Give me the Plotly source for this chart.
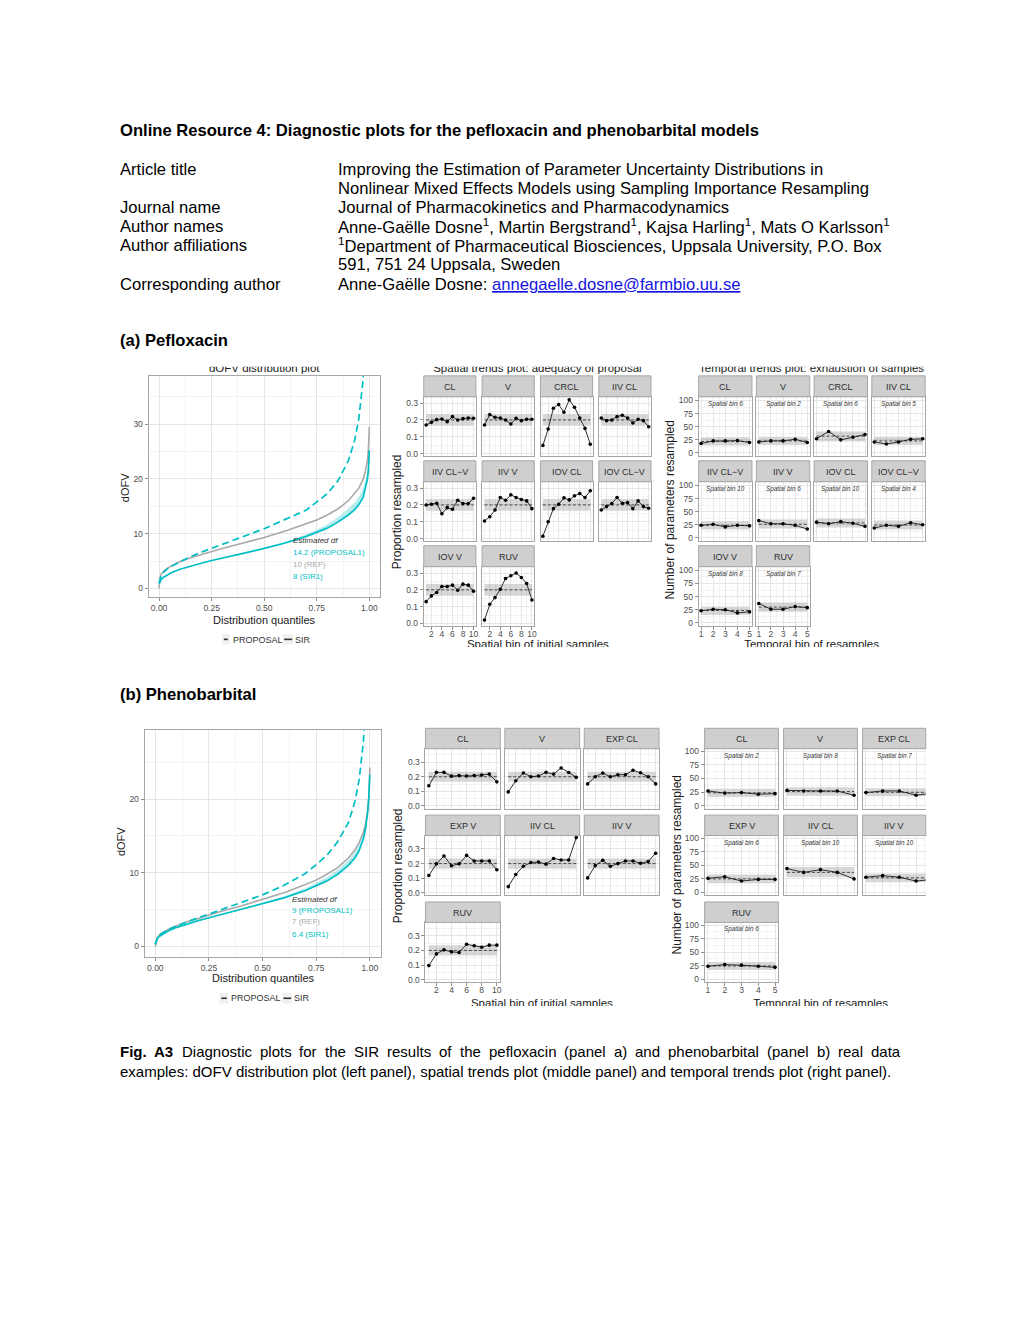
import plotly.graph_objects as go

# ============================ DATA ============================
# dOFV distribution plots (x = distribution quantile, y = dOFV)
quantiles = [0, 0.005, 0.01, 0.02, 0.04, 0.06, 0.1, 0.15, 0.2, 0.25, 0.3, 0.4, 0.5,
             0.6, 0.7, 0.75, 0.8, 0.85, 0.9, 0.93, 0.95, 0.97, 0.98, 0.99, 0.995, 1.0]

pef_dofv_ref = [0, 2.2, 2.6, 3.1, 3.7, 4.1, 4.9, 5.6, 6.2, 6.7, 7.3, 8.3, 9.3,
                10.5, 11.8, 12.5, 13.4, 14.5, 16.0, 17.3, 18.3, 19.9, 21.2, 23.2, 25.2, 29.5]
pef_dofv_sir = [0.9, 1.3, 1.6, 2.0, 2.5, 2.9, 3.5, 4.1, 4.6, 5.1, 5.5, 6.4, 7.3,
                8.3, 9.5, 10.2, 11.0, 12.1, 13.4, 14.4, 15.3, 16.6, 18.0, 19.8, 21.5, 25.2]
pef_dofv_sir_hi = [0.9, 1.3, 1.6, 2.0, 2.5, 2.9, 3.5, 4.1, 4.6, 5.1, 5.5, 6.4, 7.4,
                   8.5, 9.9, 10.7, 11.7, 13.0, 14.6, 15.7, 16.8, 18.3, 19.6, 21.0, 22.4, 25.2]
pef_dofv_prop = [1.0, 1.8, 2.3, 2.9, 3.6, 4.1, 4.9, 5.8, 6.6, 7.3, 8.0, 9.4, 10.9,
                 12.6, 14.3, 15.8, 17.3, 19.6, 23.3, 27.0, 31.0, 38.0, 44.0, 55.0, 65.0, 80.0]

phe_dofv_ref = [0, 0.9, 1.2, 1.6, 2.0, 2.3, 2.8, 3.4, 3.8, 4.3, 4.7, 5.5, 6.35,
                7.3, 8.4, 9.0, 9.8, 10.7, 12.0, 13.1, 14.1, 15.5, 16.6, 18.5, 20.3, 24.3]
phe_dofv_sir = [0.3, 0.8, 1.1, 1.4, 1.8, 2.1, 2.6, 3.1, 3.5, 3.9, 4.3, 5.0, 5.8,
                6.6, 7.6, 8.2, 8.9, 9.8, 11.0, 12.0, 13.0, 14.6, 16.0, 18.3, 20.0, 23.3]
phe_dofv_sir_hi = [0.3, 0.8, 1.1, 1.4, 1.8, 2.1, 2.6, 3.1, 3.5, 3.9, 4.3, 5.0, 5.9,
                   6.8, 7.9, 8.6, 9.4, 10.4, 11.7, 12.8, 13.8, 15.3, 16.6, 18.7, 20.3, 23.3]
phe_dofv_prop = [0.3, 0.9, 1.2, 1.6, 2.0, 2.3, 2.8, 3.4, 3.9, 4.4, 4.9, 5.9, 7.0,
                 8.3, 9.9, 11.1, 12.4, 14.2, 16.8, 19.6, 22.6, 27.8, 31.5, 40.0, 48.0, 60.0]

pef_df_labels = ["14.2 (PROPOSAL1)", "10 (REF)", "8 (SIR1)"]
phe_df_labels = ["9 (PROPOSAL1)", "7 (REF)", "6.4 (SIR1)"]

# Spatial trends plots (x = spatial bin 1..10, y = proportion resampled)
spatial_bins = [1, 2, 3, 4, 5, 6, 7, 8, 9, 10]
spatial_band = [0.165, 0.235]
spatial_expected = 0.2

pef_params = ["CL", "V", "CRCL", "IIV CL", "IIV CL\u2212V", "IIV V", "IOV CL", "IOV CL\u2212V", "IOV V", "RUV"]
pef_sp_CL = [0.17, 0.186, 0.202, 0.206, 0.19, 0.22, 0.2, 0.208, 0.212, 0.21]
pef_sp_V = [0.17, 0.232, 0.216, 0.212, 0.2, 0.176, 0.21, 0.196, 0.204, 0.204]
pef_sp_CRCL = [0.048, 0.146, 0.27, 0.292, 0.246, 0.32, 0.276, 0.212, 0.15, 0.056]
pef_sp_IIV_CL = [0.212, 0.196, 0.2, 0.22, 0.228, 0.212, 0.182, 0.204, 0.196, 0.16]
pef_sp_IIV_CLV = [0.2, 0.204, 0.21, 0.148, 0.184, 0.174, 0.228, 0.208, 0.208, 0.24]
pef_sp_IIV_V = [0.104, 0.13, 0.17, 0.244, 0.228, 0.26, 0.244, 0.232, 0.224, 0.178]
pef_sp_IOV_CL = [0.014, 0.1, 0.178, 0.204, 0.242, 0.23, 0.254, 0.268, 0.244, 0.284]
pef_sp_IOV_CLV = [0.17, 0.19, 0.208, 0.244, 0.21, 0.214, 0.178, 0.224, 0.19, 0.18]
pef_sp_IOV_V = [0.13, 0.164, 0.184, 0.22, 0.22, 0.228, 0.198, 0.234, 0.228, 0.192]
pef_sp_RUV = [0.02, 0.114, 0.154, 0.204, 0.268, 0.284, 0.3, 0.274, 0.238, 0.14]

phe_params = ["CL", "V", "EXP CL", "EXP V", "IIV CL", "IIV V", "RUV"]
phe_sp_CL = [0.138, 0.23, 0.23, 0.204, 0.208, 0.205, 0.208, 0.212, 0.218, 0.165]
phe_sp_V = [0.096, 0.173, 0.226, 0.2, 0.205, 0.23, 0.218, 0.26, 0.229, 0.196]
phe_sp_EXP_CL = [0.151, 0.2, 0.225, 0.2, 0.214, 0.214, 0.244, 0.227, 0.2, 0.151]
phe_sp_EXP_V = [0.118, 0.198, 0.252, 0.185, 0.198, 0.256, 0.218, 0.218, 0.218, 0.158]
phe_sp_IIV_CL = [0.042, 0.125, 0.182, 0.207, 0.211, 0.196, 0.235, 0.225, 0.225, 0.378]
phe_sp_IIV_V = [0.102, 0.186, 0.222, 0.182, 0.2, 0.218, 0.218, 0.202, 0.214, 0.271]
phe_sp_RUV = [0.096, 0.176, 0.204, 0.19, 0.186, 0.242, 0.232, 0.222, 0.236, 0.236]

# Temporal trends plots (x = temporal bin 1..5, y = number of parameters resampled)
temporal_bins = [1, 2, 3, 4, 5]
pef_tp_CL = [18, 23, 23, 23.5, 20]
pef_tp_V = [21, 23, 23, 26, 20]
pef_tp_CRCL = [27, 41, 25, 30, 35]
pef_tp_IIV_CL = [21, 17, 21, 26, 27]
pef_tp_IIV_CLV = [24, 26, 21, 24, 23]
pef_tp_IIV_V = [33, 27, 27, 24, 17]
pef_tp_IOV_CL = [30, 27, 31, 28, 22]
pef_tp_IOV_CLV = [19, 24, 22, 29, 25]
pef_tp_IOV_V = [23, 26, 25, 19, 21]
pef_tp_RUV = [37, 26, 26, 31, 29]
pef_tp_bin = [6, 2, 6, 5, 10, 6, 10, 4, 8, 7]
pef_tp_exp = [22, 23, 32, 23, 24, 26, 28.5, 24.5, 23.5, 30]
pef_tp_lo = [14, 15, 22, 15, 16, 18, 20, 16, 15, 21]
pef_tp_hi = [30, 31, 41, 31, 32, 35, 37, 33, 31, 39]

phe_tp_CL = [27, 23, 24, 21, 22]
phe_tp_V = [28, 27, 27, 27, 19]
phe_tp_EXP_CL = [24, 27, 27, 19, 23]
phe_tp_EXP_V = [26, 29, 21, 24, 24]
phe_tp_IIV_CL = [44, 37, 42, 37, 25]
phe_tp_IIV_V = [28, 31, 28, 21, 24]
phe_tp_RUV = [24, 27, 26, 24, 22]
phe_tp_bin = [2, 8, 7, 6, 10, 10, 6]
phe_tp_exp = [23.5, 26, 24.5, 25, 37, 27, 24.5]
phe_tp_lo = [16, 18, 17, 17, 28, 19, 17]
phe_tp_hi = [31, 34, 32, 33, 47, 35, 32]

pef_sp_series = [pef_sp_CL, pef_sp_V, pef_sp_CRCL, pef_sp_IIV_CL, pef_sp_IIV_CLV,
                 pef_sp_IIV_V, pef_sp_IOV_CL, pef_sp_IOV_CLV, pef_sp_IOV_V, pef_sp_RUV]
pef_tp_series = [pef_tp_CL, pef_tp_V, pef_tp_CRCL, pef_tp_IIV_CL, pef_tp_IIV_CLV,
                 pef_tp_IIV_V, pef_tp_IOV_CL, pef_tp_IOV_CLV, pef_tp_IOV_V, pef_tp_RUV]
phe_sp_series = [phe_sp_CL, phe_sp_V, phe_sp_EXP_CL, phe_sp_EXP_V, phe_sp_IIV_CL, phe_sp_IIV_V, phe_sp_RUV]
phe_tp_series = [phe_tp_CL, phe_tp_V, phe_tp_EXP_CL, phe_tp_EXP_V, phe_tp_IIV_CL, phe_tp_IIV_V, phe_tp_RUV]

# ============================ STYLE / HELPERS ============================
W, H = 1020, 1320
FONT = "Liberation Sans, Arial, Helvetica, sans-serif"
CYAN = "#00BFC4"
REFGREY = "#A9A9A9"
GRID = "#E6E6E6"
MINOR = "#F4F4F4"
BORDER = "#A6A6A6"
TICKC = "#909090"
TICKTXT = "#4D4D4D"
STRIPFILL = "#CFCFCF"
BANDFILL = "rgba(150,150,150,0.38)"


def X(p):
    return p / W


def Y(p):
    return 1 - p / H


fig = go.Figure()
layout = dict(width=W, height=H, margin=dict(l=0, r=0, t=0, b=0),
              paper_bgcolor="white", plot_bgcolor="rgba(0,0,0,0)", showlegend=False,
              font=dict(family=FONT))
annotations = []
shapes = []
axis_n = [0]


def new_axes(x0, x1, y0, y1, xr, yr, xo=None, yo=None):
    axis_n[0] += 1
    n = axis_n[0]
    s = "" if n == 1 else str(n)
    base = dict(fixedrange=True, zeroline=False, showgrid=False, showticklabels=False,
                ticks="", showline=False)
    xa = dict(base, domain=[X(x0), X(x1)], range=xr, anchor="y" + s)
    ya = dict(base, domain=[Y(y1), Y(y0)], range=yr, anchor="x" + s)
    if xo:
        xa.update(xo)
    if yo:
        ya.update(yo)
    layout["xaxis" + s] = xa
    layout["yaxis" + s] = ya
    return "x" + s, "y" + s


def gg(tickvals, ticktext, minor_vals, labels, size=8.5, mirror=True, standoff=0):
    return dict(tickmode="array", tickvals=tickvals, ticktext=ticktext,
                showgrid=True, gridcolor=GRID, gridwidth=1,
                minor=dict(tickmode="array", tickvals=minor_vals, showgrid=True,
                           gridcolor=MINOR, gridwidth=1, ticks=""),
                showline=True, mirror=mirror, linecolor=BORDER, linewidth=1,
                showticklabels=labels, ticks="outside" if labels else "", ticklen=3,
                tickwidth=1, tickcolor=TICKC, ticklabelstandoff=standoff,
                tickfont=dict(family=FONT, size=size, color=TICKTXT))


def text(x, y, s, size, color="#000000", xanchor="left", yanchor="middle", angle=0):
    annotations.append(dict(x=X(x), y=Y(y), xref="paper", yref="paper", text=s,
                            showarrow=False, xanchor=xanchor, yanchor=yanchor,
                            textangle=angle, borderpad=0,
                            font=dict(family=FONT, size=size, color=color)))


def rect(x0, y0, x1, y1, fill, line=None, lw=1):
    shapes.append(dict(type="rect", xref="paper", yref="paper", x0=X(x0), x1=X(x1),
                       y0=Y(y1), y1=Y(y0), fillcolor=fill,
                       line=dict(color=line or fill, width=lw if line else 0)))


def hline(x0, x1, y, color, width):
    shapes.append(dict(type="line", xref="paper", yref="paper", x0=X(x0), x1=X(x1),
                       y0=Y(y), y1=Y(y), line=dict(color=color, width=width)))


def facet(left, right, strip_top, strip_bot, panel_bot, xr, yr, xticks, yticks, yticktext,
          xminor, yminor, show_x, show_y, label, xs, ys, band_x, lo, hi, expv,
          sub=None, mirror_y=True):
    xo = gg(xticks, [str(v) for v in xticks], xminor, show_x, standoff=-3)
    yo = gg(yticks, yticktext, yminor, show_y, mirror=mirror_y)
    xa, ya = new_axes(left, right, strip_bot, panel_bot, xr, yr, xo, yo)
    fig.add_trace(go.Scatter(x=[band_x[0], band_x[1], band_x[1], band_x[0], band_x[0]],
                             y=[lo, lo, hi, hi, lo], fill="toself", fillcolor=BANDFILL,
                             line=dict(width=0), mode="lines", hoverinfo="skip",
                             xaxis=xa, yaxis=ya))
    fig.add_trace(go.Scatter(x=band_x, y=[expv, expv], mode="lines", hoverinfo="skip",
                             line=dict(color="#4A4A4A", width=1, dash="3px,2px"),
                             xaxis=xa, yaxis=ya))
    fig.add_trace(go.Scatter(x=xs, y=ys, mode="lines+markers", hoverinfo="skip",
                             line=dict(color="#1A1A1A", width=0.9),
                             marker=dict(size=3.6, color="#000000"),
                             xaxis=xa, yaxis=ya))
    rect(left, strip_top, right, strip_bot, STRIPFILL, BORDER, 1)
    cx = (left + right) / 2
    text(cx, (strip_top + strip_bot) / 2 + 0.5, label, 9, "#2E2E2E", xanchor="center")
    if sub:
        text(cx, strip_bot + 7, "<i>" + sub + "</i>", 6.3, "#333333", xanchor="center")


def dofv_plot(x0, x1, y0, y1, yr, ref, sir, sir_hi, prop, yticks, df_labels, df_x, df_y):
    xo = gg([0, 0.25, 0.5, 0.75, 1.0], ["0.00", "0.25", "0.50", "0.75", "1.00"],
            [0.125, 0.375, 0.625, 0.875], True, size=8.5)
    yo = gg(yticks, [str(v) for v in yticks], [5, 15, 25, 35], True, size=8.5)
    xa, ya = new_axes(x0, x1, y0, y1, [-0.05, 1.05], yr, xo, yo)
    fig.add_trace(go.Scatter(x=quantiles, y=ref, mode="lines", hoverinfo="skip",
                             line=dict(color=REFGREY, width=1.6), xaxis=xa, yaxis=ya))
    fig.add_trace(go.Scatter(x=quantiles + quantiles[::-1], y=sir + sir_hi[::-1],
                             fill="toself", fillcolor="rgba(0,191,196,0.28)",
                             line=dict(width=0), mode="lines", hoverinfo="skip",
                             xaxis=xa, yaxis=ya))
    fig.add_trace(go.Scatter(x=quantiles, y=sir, mode="lines", hoverinfo="skip",
                             line=dict(color=CYAN, width=1.7), xaxis=xa, yaxis=ya))
    fig.add_trace(go.Scatter(x=quantiles, y=prop, mode="lines", hoverinfo="skip",
                             line=dict(color=CYAN, width=1.7, dash="7px,4px"),
                             xaxis=xa, yaxis=ya))
    text(df_x, df_y[0], "<i>Estimated df</i>", 8, "#333333")
    cols = [CYAN, REFGREY, CYAN]
    for lab, c, yy in zip(df_labels, cols, df_y[1:]):
        text(df_x, yy, lab, 8, c)


# ============================ HEADER TEXT ============================
HS = 16.6
text(119, 129, "<b>Online Resource 4: Diagnostic plots for the pefloxacin and phenobarbital models</b>", HS)
left_labels = [("Article title", 168), ("Journal name", 206), ("Author names", 225),
               ("Author affiliations", 244), ("Corresponding author", 283)]
for s, yy in left_labels:
    text(119, yy, s, HS)
right_lines = [
    ("Improving the Estimation of Parameter Uncertainty Distributions in", 168),
    ("Nonlinear Mixed Effects Models using Sampling Importance Resampling", 187),
    ("Journal of Pharmacokinetics and Pharmacodynamics", 206),
    ("Anne-Ga\u00eblle Dosne<sup>1</sup>, Martin Bergstrand<sup>1</sup>, Kajsa Harling<sup>1</sup>, Mats O Karlsson<sup>1</sup>", 225),
    ("<sup>1</sup>Department of Pharmaceutical Biosciences, Uppsala University, P.O. Box", 244),
    ("591, 751 24 Uppsala, Sweden", 263),
    ("Anne-Ga\u00eblle Dosne: <span style='color:#1515E0'><u>annegaelle.dosne@farmbio.uu.se</u></span>", 283),
]
for s, yy in right_lines:
    text(338, yy, s, HS)

text(119, 340, "<b>(a) Pefloxacin</b>", HS)
text(119, 695, "<b>(b) Phenobarbital</b>", HS)

# Caption (first line justified)
AW = {' ': 278, '(': 333, ')': 333, ',': 278, '-': 333, '.': 278, ':': 278,
      'A': 667, 'D': 722, 'F': 611, 'I': 278, 'O': 778, 'R': 722, 'S': 667, 'V': 667}
for ch in "0123456789":
    AW[ch] = 556
for ch, w in zip("abcdefghijklmnopqrstuvwxyz",
                 [556, 556, 500, 556, 556, 278, 556, 556, 222, 222, 500, 222, 833,
                  556, 556, 556, 556, 333, 500, 278, 556, 500, 722, 500, 500, 500]):
    AW[ch] = w
AWB = {'F': 611, 'i': 278, 'g': 611, '.': 278, 'A': 722, '3': 556}
CS = 15
cap_words = ["Fig.", "A3", "Diagnostic", "plots", "for", "the", "SIR", "results", "of", "the",
             "pefloxacin", "(panel", "a)", "and", "phenobarbital", "(panel", "b)", "real", "data"]
widths = []
for i, wd in enumerate(cap_words):
    tab = AWB if i < 2 else AW
    widths.append(sum(tab.get(c, 556) for c in wd) * CS / 1000.0)
gap = (902 - 119 - sum(widths)) / (len(cap_words) - 1)
xx = 119
for i, wd in enumerate(cap_words):
    text(xx, 1053, ("<b>" + wd + "</b>") if i < 2 else wd, CS)
    xx += widths[i] + gap
text(119, 1073, "examples: dOFV distribution plot (left panel), spatial trends plot (middle panel) "
     "and temporal trends plot (right panel).", CS)

# ============================ PANEL (a) ============================
dofv_plot(149, 381, 375, 597, [-1.6, 38.8], pef_dofv_ref, pef_dofv_sir, pef_dofv_sir_hi,
          pef_dofv_prop, [0, 10, 20, 30], pef_df_labels, 293, [540, 552, 564, 576])
text(265, 620, "Distribution quantiles", 11, "#1A1A1A", xanchor="center")
text(125, 487, "dOFV", 11, "#1A1A1A", xanchor="center", angle=-90)
# legend
rect(222.5, 634, 230.5, 644.5, "#F0F0F0")
hline(224.5, 228.5, 639.3, "#333333", 1.6)
text(232.5, 639.5, "PROPOSAL", 9, "#333333")
rect(284, 634, 294, 644.5, "#F0F0F0")
hline(285, 293, 639.3, "#333333", 1.6)
text(295, 639.5, "SIR", 9, "#333333")

# spatial (a)
sp_y = [0, 0.1, 0.2, 0.3]
sp_yt = ["0.0", "0.1", "0.2", "0.3"]
for i, (lab, ys) in enumerate(zip(pef_params, pef_sp_series)):
    c, r = i % 4, i // 4
    left = 425 + 58.55 * c
    top = 375 + 85.2 * r
    facet(left, left + 52.3, top, top + 21, top + 80.5, [0.55, 10.45], [-0.015, 0.338],
          [2, 4, 6, 8, 10], sp_y, sp_yt, [1, 3, 5, 7, 9], [0.05, 0.15, 0.25],
          r == 2, c == 0, lab, spatial_bins, ys, [1, 10], spatial_band[0], spatial_band[1],
          spatial_expected)
text(399, 511, "Proportion resampled", 12, "#1A1A1A", xanchor="center", angle=-90)

# temporal (a)
tp_y = [0, 25, 50, 75, 100]
tp_yt = ["0", "25", "50", "75", "100"]
for i, (lab, ys) in enumerate(zip(pef_params, pef_tp_series)):
    c, r = i % 4, i // 4
    left = 700.7 + 57.9 * c
    top = 375 + 85.2 * r
    facet(left, left + 53.5, top, top + 21, top + 80.5, [0.8, 5.2], [-6, 107],
          [1, 2, 3, 4, 5], tp_y, tp_yt, [1.5, 2.5, 3.5, 4.5], [12.5, 37.5, 62.5, 87.5],
          r == 2, c == 0, lab, temporal_bins, ys, [1, 5], pef_tp_lo[i], pef_tp_hi[i],
          pef_tp_exp[i], sub="Spatial bin %d" % pef_tp_bin[i])
text(672, 510, "Number of parameters resampled", 12, "#1A1A1A", xanchor="center", angle=-90)

# clipped titles (a)
cx, cy = new_axes(100, 940, 365.8, 374.5, [100, 940], [374.5, 365.8])
fig.add_trace(go.Scatter(x=[265, 539, 814], y=[368.3, 368.3, 368.3], mode="text",
                         text=["dOFV distribution plot", "Spatial trends plot: adequacy of proposal",
                               "Temporal trends plot: exhaustion of samples"],
                         textposition="middle center", cliponaxis=True, hoverinfo="skip",
                         textfont=dict(family=FONT, size=11.5, color="#1A1A1A"),
                         xaxis=cx, yaxis=cy))
cx, cy = new_axes(400, 940, 638, 647, [400, 940], [647, 638])
fig.add_trace(go.Scatter(x=[539.5, 814], y=[645.5, 645.5], mode="text",
                         text=["Spatial bin of initial samples", "Temporal bin of resamples"],
                         textposition="middle center", cliponaxis=True, hoverinfo="skip",
                         textfont=dict(family=FONT, size=11.5, color="#1A1A1A"),
                         xaxis=cx, yaxis=cy))

# ============================ PANEL (b) ============================
dofv_plot(145, 381.7, 730, 957.7, [-1.4, 29.4], phe_dofv_ref, phe_dofv_sir, phe_dofv_sir_hi,
          phe_dofv_prop, [0, 10, 20], phe_df_labels, 291.7, [900, 911.7, 922.7, 935])
text(264, 979, "Distribution quantiles", 11, "#1A1A1A", xanchor="center")
text(122, 842, "dOFV", 11, "#1A1A1A", xanchor="center", angle=-90)
rect(220, 994, 229.3, 1004.5, "#F0F0F0")
hline(222, 227.5, 999.3, "#333333", 1.6)
text(231, 999.5, "PROPOSAL", 9, "#333333")
rect(283.3, 994, 292.7, 1004.5, "#F0F0F0")
hline(284.3, 292, 999.3, "#333333", 1.6)
text(293.5, 999.5, "SIR", 9, "#333333")

for i, (lab, ys) in enumerate(zip(phe_params, phe_sp_series)):
    c, r = i % 3, i // 3
    left = 426.7 + 79.65 * c
    top = 728.5 + 87.1 * r
    facet(left, left + 75, top, top + 20.5, top + 80.5, [0.55, 10.45], [-0.018, 0.392],
          [2, 4, 6, 8, 10], sp_y, sp_yt, [1, 3, 5, 7, 9], [0.05, 0.15, 0.25, 0.35],
          r == 2, c == 0, lab, spatial_bins, ys, [1, 10], spatial_band[0], spatial_band[1],
          spatial_expected)
text(400, 866, "Proportion resampled", 12, "#1A1A1A", xanchor="center", angle=-90)

for i, (lab, ys) in enumerate(zip(phe_params, phe_tp_series)):
    c, r = i % 3, i // 3
    left = 706.7 + 79.2 * c
    top = 728.5 + 87.1 * r
    cut = (c == 2)
    right = 928.5 if cut else left + 74
    xr = [0.8, 4.58] if cut else [0.8, 5.2]
    facet(left, right, top, top + 20.5, top + 80.5, xr, [-5.5, 105],
          [1, 2, 3, 4, 5], tp_y, tp_yt, [1.5, 2.5, 3.5, 4.5], [12.5, 37.5, 62.5, 87.5],
          r == 2, c == 0, lab, temporal_bins, ys, [1, 5], phe_tp_lo[i], phe_tp_hi[i],
          phe_tp_exp[i], sub="Spatial bin %d" % phe_tp_bin[i], mirror_y=not cut)
text(679, 866, "Number of parameters resampled", 12, "#1A1A1A", xanchor="center", angle=-90)

cx, cy = new_axes(400, 940, 998, 1007, [400, 940], [1007, 998])
fig.add_trace(go.Scatter(x=[543.5, 823], y=[1005.5, 1005.5], mode="text",
                         text=["Spatial bin of initial samples", "Temporal bin of resamples"],
                         textposition="middle center", cliponaxis=True, hoverinfo="skip",
                         textfont=dict(family=FONT, size=11.5, color="#1A1A1A"),
                         xaxis=cx, yaxis=cy))

layout["annotations"] = annotations
layout["shapes"] = shapes
fig.update_layout(**layout)
fig.write_html("out.html")
